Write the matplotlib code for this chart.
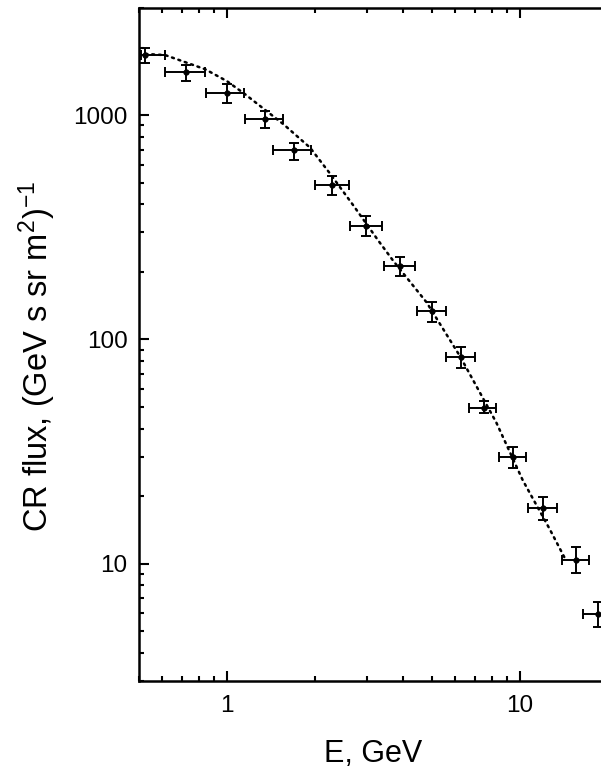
import numpy as np
import matplotlib
matplotlib.use('Agg')
import matplotlib.pyplot as plt
from matplotlib.ticker import LogLocator, NullFormatter, FixedLocator, FixedFormatter

plt.rcParams['font.family'] = ['Liberation Sans', 'DejaVu Sans']
plt.rcParams['mathtext.fontset'] = 'custom'
plt.rcParams['mathtext.rm'] = 'Liberation Sans'
plt.rcParams['mathtext.it'] = 'Liberation Sans'

# measured points
energy = [0.526, 0.727, 1.0, 1.35, 1.69, 2.29, 2.99, 3.90, 5.0, 6.29, 7.50, 9.49, 11.95, 15.5, 18.5]
flux = [1860, 1550, 1255, 957, 696, 489, 321, 212, 134, 83.8, 49.7, 29.8, 17.7, 10.4, 5.96]
e_lo = [0.509, 0.616, 0.85, 1.155, 1.43, 1.99, 2.62, 3.42, 4.45, 5.6, 6.7, 8.5, 10.65, 13.9, 16.4]
e_hi = [0.616, 0.839, 1.146, 1.55, 1.94, 2.6, 3.37, 4.37, 5.6, 7.02, 8.26, 10.46, 13.4, 17.2, 20.9]
f_lo = [1707, 1416, 1131, 879, 631, 440, 290, 192, 120, 74.3, 47.2, 26.6, 15.7, 9.1, 5.2]
f_hi = [1991, 1680, 1369, 1042, 754, 535, 356, 232, 147, 92.5, 53.2, 33.0, 19.9, 11.9, 6.76]

# dotted model curve
curve_e = [0.5, 0.616, 0.843, 1.0, 1.155, 1.56, 1.92, 2.25, 2.7, 3.28, 3.70, 4.80, 6.24, 8.3, 10.2, 12.6, 14.2]
curve_f = [1880, 1850, 1600, 1416, 1236, 909, 716, 547, 395, 276, 223, 146, 84, 42.5, 23.6, 14.3, 10.6]

fig = plt.figure(figsize=(6.01, 7.71), dpi=100)
ax = fig.add_axes([0.2308, 0.1167, 0.7815, 0.8729])

ax.plot(curve_e, curve_f, color='black', linestyle=(0, (0.8, 1.9)), linewidth=1.8,
        dash_capstyle='round')

e = np.array(energy)
f = np.array(flux)
xerr = [e - np.array(e_lo), np.array(e_hi) - e]
yerr = [f - np.array(f_lo), np.array(f_hi) - f]
ax.errorbar(e, f, xerr=xerr, yerr=yerr, fmt='o', color='black', markersize=3.5,
            elinewidth=1.4, capsize=3.5, capthick=1.4)

ax.set_xscale('log')
ax.set_yscale('log')
ax.set_xlim(0.5, 20)
ax.set_ylim(3, 3000)

ax.xaxis.set_major_locator(FixedLocator([1, 10]))
ax.xaxis.set_major_formatter(FixedFormatter(['1', '10']))
ax.xaxis.set_minor_locator(LogLocator(base=10, subs=np.arange(2, 10)))
ax.xaxis.set_minor_formatter(NullFormatter())
ax.yaxis.set_major_locator(FixedLocator([10, 100, 1000]))
ax.yaxis.set_major_formatter(FixedFormatter(['10', '100', '1000']))
ax.yaxis.set_minor_locator(LogLocator(base=10, subs=np.arange(2, 10)))
ax.yaxis.set_minor_formatter(NullFormatter())

ax.tick_params(which='both', direction='in', top=True, right=False, width=1.5)
ax.tick_params(which='major', length=7, labelsize=17.5)
ax.tick_params(which='minor', length=3.5)
ax.tick_params(axis='x', which='major', pad=10)
ax.tick_params(axis='y', which='major', pad=8)

for side in ['left', 'bottom', 'top']:
    ax.spines[side].set_linewidth(1.8)
ax.spines['right'].set_visible(False)

ax.set_xlabel('E, GeV', fontsize=22, labelpad=16)
ax.set_ylabel('CR flux, (GeV s sr m$^{2}$)$^{-1}$', fontsize=23.5)
ax.yaxis.set_label_coords(-0.1725, 0.483)

fig.savefig('out.png', dpi=100)
